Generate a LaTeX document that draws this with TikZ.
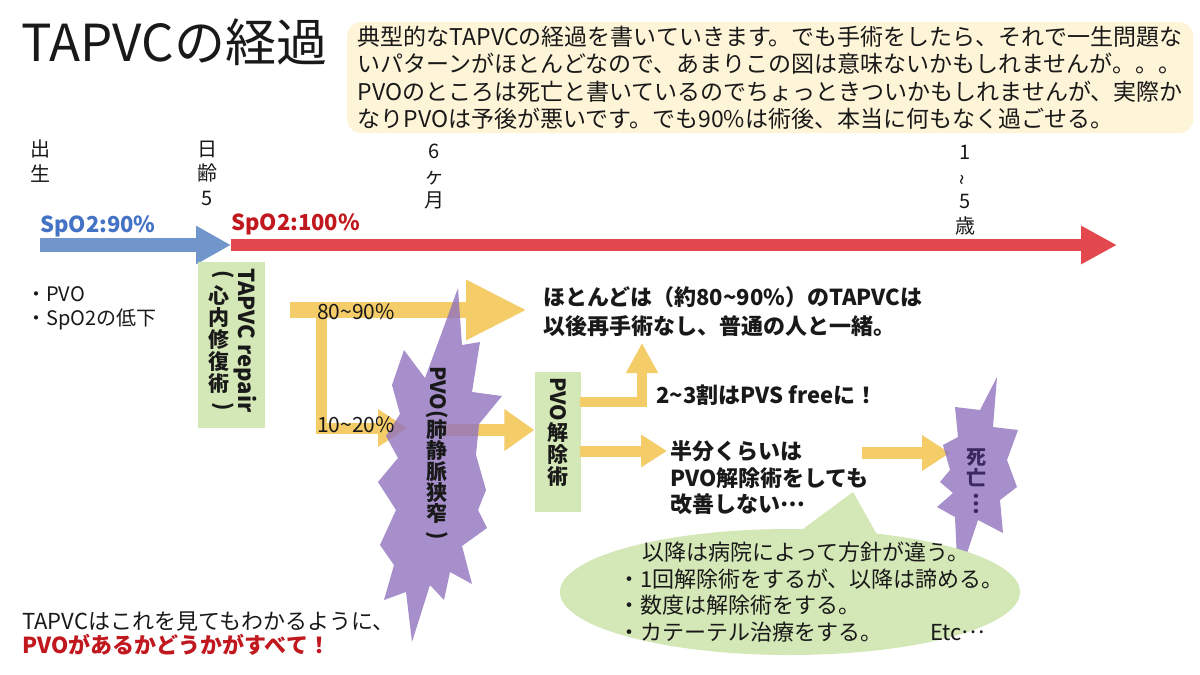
\documentclass[tikz,border=0pt]{standalone}
\usepackage{fontspec}
\setmainfont{Noto Sans CJK JP}
\usepackage{graphicx}
\usetikzlibrary{arrows.meta}
\definecolor{blueA}{RGB}{112,150,203}
\definecolor{blueT}{RGB}{68,114,196}
\definecolor{redA}{RGB}{226,72,77}
\definecolor{redT}{RGB}{192,24,30}
\definecolor{yelA}{RGB}{244,204,104}
\definecolor{purA}{RGB}{144,115,190}
\definecolor{greenF}{RGB}{212,231,182}
\definecolor{creamF}{RGB}{254,244,216}
\definecolor{txt}{RGB}{25,25,25}
\definecolor{deathT}{RGB}{60,40,95}
\newcommand{\vrot}[1]{\rotatebox[origin=c]{-90}{#1}}
\newcommand{\dotsJ}{\raisebox{0.3em}{…}}
\begin{document}
\begin{tikzpicture}[x=1pt,y=-1pt,
  every node/.style={text=txt, inner sep=0pt},
  lbl/.style={font=\fontsize{20}{24.5}\selectfont, align=center},
  small/.style={font=\fontsize{20}{24}\selectfont, align=left},
  body/.style={font=\bfseries\fontsize{22}{29}\selectfont, align=left},
  vcol/.style={font=\bfseries\fontsize{21}{22}\selectfont, align=center},
  greenbox/.style={fill=greenF, draw=none},
  yarr/.style={draw=yelA, line join=miter},
  burst/.style={fill=purA, opacity=0.8}
]
\useasboundingbox (0,0) rectangle (1200,675);
\fill[white] (0,0) rectangle (1200,675);

% title
\node[anchor=west, font=\fontsize{51}{58}\selectfont] (title) at (21,42) {TAPVCの経過};

% note box
\node[anchor=north west, fill=creamF, rounded corners=14pt, minimum width=846pt,
      minimum height=111pt, inner xsep=8pt, align=left,
      font=\fontsize{23}{27.6}\selectfont] (note) at (347,22)
 {典型的なTAPVCの経過を書いていきます。でも手術をしたら、それで一生問題な\\
  いパターンがほとんどなので、あまりこの図は意味ないかもしれませんが。。。\\
  PVOのところは死亡と書いているのでちょっときついかもしれませんが、実際か\\
  なりPVOは予後が悪いです。でも90\%は術後、本当に何もなく過ごせる。};

% time labels
\node[lbl] (tbirth) at (40,161) {出\\生};
\node[lbl] (tday) at (207,173) {日\\齢\\5};
\node[lbl] (tmonth) at (434,177) {6\\ヶ\\月};
\node[lbl] (tyear) at (965,190) {1\\\rotatebox[origin=c]{90}{\textasciitilde}\\5\\歳};

% SpO2 labels
\node[anchor=west, text=blueT, font=\bfseries\fontsize{22}{26}\selectfont] (spo90) at (40,226) {SpO2:90\%};
\node[anchor=west, text=redT, font=\bfseries\fontsize{22}{26}\selectfont] (spo100) at (231,224) {SpO2:100\%};

% timeline arrows
\coordinate (bS) at (40,245);
\coordinate (bE) at (231,245);
\coordinate (rE) at (1117,245);
\draw[draw=blueA, line width=14pt, -{Triangle[width=36pt,length=35pt]}] (bS) -- (bE);
\draw[draw=redA, line width=12pt, -{Triangle[width=36pt,length=36pt]}] (bE) -- (rE);

% symptoms
\node[small, anchor=north west] (symp) at (26,286) {・PVO\\・SpO2の低下};

% repair box
\node[greenbox, minimum width=67pt, minimum height=166pt] (repair) at (231.5,345) {};
\node[rotate=-90, anchor=west, font=\bfseries\fontsize{22}{26}\selectfont] (repairA) at (245,268) {TAPVC repair};
\node[vcol, anchor=north] (repairB) at (219,270) {\hspace*{9pt}\vrot{(}\\心\\内\\修\\復\\術\\\hspace*{9pt}\vrot{)}};

% PVO release box
\node[greenbox, minimum width=46pt, minimum height=140pt] (release) at (557.5,442) {};
\node[vcol, anchor=north] (releaseT) at (558,377) {\vrot{PVO}\\解\\除\\術};

% yellow arrows
\coordinate (y1s) at (290,310);
\coordinate (y1e) at (527,310);
\coordinate (y2s) at (321,303);
\coordinate (y2c) at (321,428);
\coordinate (y2e) at (407,428);
\coordinate (y3s) at (445,430);
\coordinate (y4s) at (580,402);
\coordinate (y4c) at (642,402);
\coordinate (y4e) at (642,343);
\coordinate (y5s) at (580,451);
\coordinate (y5e) at (667,451);
\coordinate (y6s) at (862,453);
\coordinate (y6e) at (950,453);
\draw[yarr, line width=16pt, -{Triangle[width=56pt,length=61pt]}] (y1s) -- (y1e);
\draw[yarr, line width=11pt, -{Triangle[width=36pt,length=29pt]}] (y2s) -- (y2c) -- (y2e);
\draw[yarr, line width=12pt, -{Triangle[width=40pt,length=30pt]}] (y3s) -- (release.west |- y3s);
\draw[yarr, line width=10pt, -{Triangle[width=30pt,length=30pt]}] (y4s) -- (y4c) -- (y4e);
\draw[yarr, line width=11pt, -{Triangle[width=31pt,length=26pt]}] (y5s) -- (y5e);
\draw[yarr, line width=12pt, -{Triangle[width=34pt,length=28pt]}] (y6s) -- (y6e);

% bursts
\fill[burst] (458,288) -- (462,345) -- (480,342) -- (472,392) -- (502,396) -- (479,424)
  -- (476,455) -- (486,490) -- (478,510) -- (487,528) -- (462,546) -- (472,584)
  -- (450,572) -- (444,600) -- (430,585) -- (412,642) -- (406,592) -- (384,600)
  -- (394,565) -- (380,545) -- (396,510) -- (378,482) -- (398,458) -- (386,436)
  -- (400,414) -- (392,385) -- (404,350) -- (425,378) -- (442,332) -- cycle;
\fill[burst] (997,377) -- (993,427) -- (1018,430) -- (1007,460) -- (1017,487)
  -- (1000,500) -- (1003,533) -- (978,520) -- (958,580) -- (955,517) -- (937,507)
  -- (953,493) -- (940,482) -- (950,470) -- (943,445) -- (958,437) -- (955,407)
  -- (980,410) -- cycle;

\node[font=\bfseries\fontsize{21}{21}\selectfont, align=center, anchor=north] (pvo) at (437,366)
  {\vrot{PVO(}\\肺\\静\\脈\\狭\\窄\\\vrot{)}};
\node[font=\bfseries\fontsize{20}{20.5}\selectfont, align=center, text=deathT] (death) at (976,482)
  {死\\亡\\\vrot{…}};

% percentages
\node[anchor=west, font=\fontsize{21}{25}\selectfont] (p8090) at (317,312) {80\textasciitilde90\%};
\node[anchor=west, font=\fontsize{21}{25}\selectfont] (p1020) at (317,425) {10\textasciitilde20\%};

% outcome texts
\node[body, anchor=west] (most) at (543,312) {ほとんどは（約80\textasciitilde90\%）のTAPVCは\\以後再手術なし、普通の人と一緒。};
\node[body, anchor=west] (free) at (656,395) {2\textasciitilde3割はPVS freeに！};
\node[body, anchor=west, font=\bfseries\fontsize{22}{26.5}\selectfont] (half) at (670,478) {半分くらいは\\PVO解除術をしても\\改善しない\dotsJ};

% speech bubble
\fill[greenF] (790,592) ellipse [x radius=230, y radius=63];
\fill[greenF] (788,540) -- (853,492) -- (880,540) -- cycle;
\node[anchor=west, align=left, font=\fontsize{22}{26.7}\selectfont] (policy) at (618,592)
 {\hspace*{24pt}以降は病院によって方針が違う。\\
  ・1回解除術をするが、以降は諦める。\\
  ・数度は解除術をする。\\
  ・カテーテル治療をする。\hspace{48pt}Etc\dotsJ};

% conclusion
\node[anchor=west, align=left, font=\fontsize{22}{24}\selectfont] (concl) at (22,634)
 {TAPVCはこれを見てもわかるように、\\{\color{redT}\bfseries PVOがあるかどうかがすべて！}};
\end{tikzpicture}
\end{document}
